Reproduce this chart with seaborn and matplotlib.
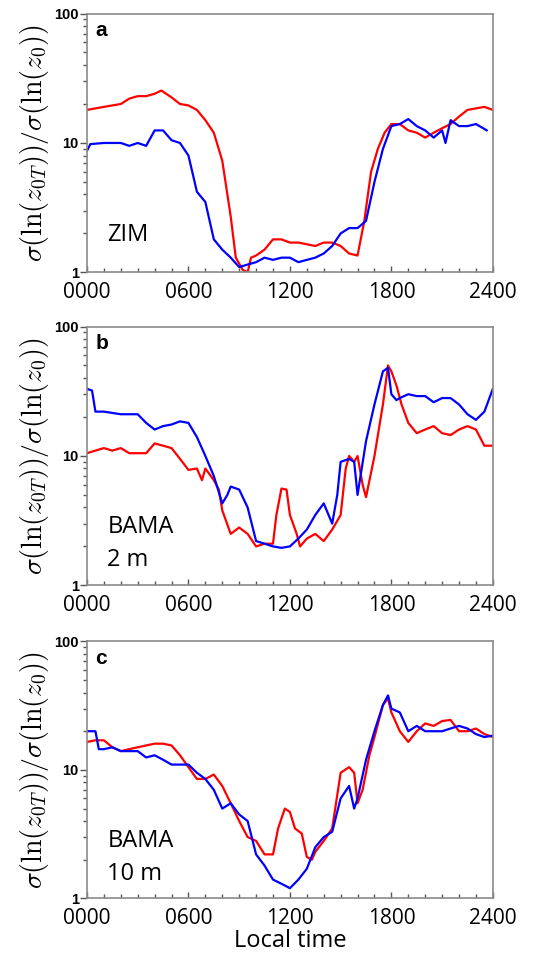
import numpy as np
import pandas as pd
import matplotlib
matplotlib.use("Agg")
import matplotlib.pyplot as plt
import matplotlib.ticker as mticker
import seaborn as sns

# hours of day
t_a_red = [0, 0.5, 1, 1.5, 2, 2.5, 3, 3.5, 4, 4.4, 5, 5.5, 6, 6.5, 7, 7.5, 8, 8.5, 8.8, 9.2, 9.5, 9.7, 10, 10.5, 11, 11.5, 12, 12.5, 13, 13.5, 14, 14.5, 15, 15.5, 16, 16.4, 16.8, 17.2, 17.6, 18, 18.5, 19, 19.5, 20, 20.5, 21, 21.5, 22, 22.5, 23, 23.5, 24]
v_a_red = [18, 18.5, 19, 19.5, 20, 22, 23, 23, 24, 25.4, 22.5, 20, 19.5, 18, 15, 12, 7.3, 2.7, 1.3, 1.05, 1.0, 1.3, 1.35, 1.5, 1.8, 1.8, 1.7, 1.7, 1.65, 1.6, 1.7, 1.7, 1.6, 1.4, 1.35, 2.5, 6, 9, 12, 14, 14, 12.5, 12, 11, 12, 13, 14, 16, 18, 18.5, 19, 18]
t_a_blue = [0, 0.2, 1, 2, 2.5, 3, 3.5, 4, 4.5, 5, 5.5, 6, 6.5, 7, 7.5, 8, 8.5, 9, 9.5, 10, 10.5, 11, 11.5, 12, 12.5, 13, 13.5, 14, 14.5, 15, 15.5, 16, 16.5, 17, 17.5, 18, 18.5, 19, 19.5, 20, 20.5, 21, 21.2, 21.5, 22, 22.5, 23, 23.65]
v_a_blue = [8.7, 9.8, 10, 10, 9.5, 10, 9.5, 12.5, 12.5, 10.5, 10, 8, 4.2, 3.5, 1.8, 1.5, 1.3, 1.1, 1.15, 1.2, 1.3, 1.25, 1.3, 1.3, 1.2, 1.25, 1.3, 1.4, 1.6, 2.0, 2.2, 2.2, 2.5, 5, 9, 13.5, 14, 15.3, 13.5, 12.5, 11, 12.5, 10, 15, 13.5, 13.5, 14, 12.5]

t_b_red = [0, 0.5, 1, 1.5, 2, 2.5, 3, 3.5, 4, 4.5, 5, 5.5, 6, 6.5, 6.8, 7, 7.5, 7.8, 8, 8.5, 9, 9.5, 10, 10.5, 11, 11.2, 11.5, 11.8, 12, 12.4, 12.6, 13, 13.5, 14, 14.5, 15, 15.3, 15.5, 15.8, 16, 16.3, 16.5, 17, 17.5, 17.8, 18, 18.3, 18.6, 19, 19.5, 20, 20.5, 21, 21.5, 22, 22.5, 23, 23.5, 24]
v_b_red = [10.5, 11, 11.5, 11, 11.5, 10.5, 10.5, 10.5, 12.5, 12, 11.5, 9.5, 7.8, 8, 6.5, 8, 6.5, 5.5, 3.8, 2.5, 2.8, 2.5, 2.0, 2.1, 2.1, 3.5, 5.6, 5.5, 3.5, 2.5, 2.0, 2.3, 2.5, 2.2, 2.7, 3.5, 8, 10, 9, 10, 6, 4.8, 10, 25, 50, 45, 35, 25, 18, 15, 16, 17, 15, 14.5, 16, 17, 16, 12, 12]
t_b_blue = [0, 0.3, 0.5, 1, 2, 3, 3.5, 4, 4.5, 5, 5.5, 6, 6.5, 7, 7.5, 8, 8.3, 8.5, 9, 9.5, 10, 10.5, 11, 11.5, 12, 12.5, 13, 13.5, 14, 14.5, 14.8, 15, 15.5, 15.8, 16, 16.5, 17, 17.5, 17.8, 18, 18.3, 18.5, 19, 19.5, 20, 20.5, 21, 21.5, 22, 22.5, 23, 23.5, 24]
v_b_blue = [33, 32, 22, 22, 21, 21, 18, 16, 17, 17.5, 18.5, 18, 14, 10, 7, 4.3, 5, 5.8, 5.5, 4, 2.2, 2.1, 2.0, 1.95, 2.0, 2.3, 2.7, 3.5, 4.3, 3.0, 5, 9, 9.5, 9, 5, 13, 25, 45, 48, 30, 27, 28, 30, 29, 29, 26, 28, 28, 25, 21, 19, 22, 33]

t_c_red = [0, 0.5, 1, 1.5, 2, 2.5, 3, 3.5, 4, 4.5, 5, 5.5, 6, 6.5, 7, 7.5, 8, 8.5, 9, 9.5, 10, 10.5, 11, 11.3, 11.7, 12, 12.3, 12.7, 13, 13.3, 13.5, 14, 14.5, 15, 15.5, 15.8, 16, 16.3, 16.7, 17, 17.5, 17.8, 18, 18.5, 19, 19.5, 20, 20.5, 21, 21.5, 22, 22.5, 23, 23.5, 24]
v_c_red = [16.5, 17, 17, 15, 14, 14.5, 15, 15.5, 16, 16, 15.5, 13, 10.5, 8.5, 8.5, 9.2, 7.5, 5.5, 4, 3, 2.8, 2.2, 2.2, 3.5, 5, 4.7, 3.5, 3.2, 2.1, 2.0, 2.3, 2.8, 3.5, 9.5, 10.5, 9.5, 5.5, 7, 13, 18, 32, 36, 28, 20, 16.5, 20, 23, 22, 24, 24.5, 20, 20, 21, 19, 18]
t_c_blue = [0, 0.5, 0.7, 1, 1.5, 2, 3, 3.5, 4, 4.5, 5, 5.5, 6, 6.5, 7, 7.5, 8, 8.5, 9, 9.5, 10, 10.5, 11, 11.5, 12, 12.5, 13, 13.5, 14, 14.5, 15, 15.5, 15.8, 16, 16.5, 17, 17.5, 17.8, 18, 18.5, 19, 19.5, 20, 20.5, 21, 21.5, 22, 22.5, 23, 23.5, 24]
v_c_blue = [20, 20, 14.5, 14.5, 15, 14, 14, 12.5, 13, 12, 11, 11, 11, 9.5, 8.5, 7, 5, 5.5, 4.5, 4, 2.2, 1.8, 1.4, 1.3, 1.2, 1.4, 1.7, 2.5, 3.0, 3.3, 6, 7.5, 5, 6, 12, 20, 32, 38, 30, 28, 20, 22, 20, 20, 20, 21, 22, 21, 19, 18, 18.5]

panel_letters = ["a", "b", "c"]
site_labels = ["ZIM", "BAMA\n2 m", "BAMA\n10 m"]
x_ticks = [0, 6, 12, 18, 24]
x_ticklabels = ["0000", "0600", "1200", "1800", "2400"]
ylab = r"$\sigma(\ln(z_{0T}))/\sigma(\ln(z_0))$"

series = [
    (t_a_red, v_a_red, t_a_blue, v_a_blue),
    (t_b_red, v_b_red, t_b_blue, v_b_blue),
    (t_c_red, v_c_red, t_c_blue, v_c_blue),
]

sns.set_style("white")
plt.rcParams["mathtext.fontset"] = "cm"
plt.rcParams["text.color"] = "black"
plt.rcParams["axes.labelcolor"] = "black"
plt.rcParams["xtick.color"] = "black"
plt.rcParams["ytick.color"] = "black"

fig = plt.figure(figsize=(5.47, 9.66), dpi=100)
boxes = [(0.159, 0.718, 0.742, 0.268),
         (0.159, 0.394, 0.742, 0.268),
         (0.159, 0.070, 0.742, 0.266)]

for i, (tr, vr, tb, vb) in enumerate(series):
    ax = fig.add_axes(boxes[i])
    dr = pd.DataFrame({"t": tr, "v": vr})
    db = pd.DataFrame({"t": tb, "v": vb})
    sns.lineplot(data=dr, x="t", y="v", color="#ff0000", lw=1.6, ax=ax)
    sns.lineplot(data=db, x="t", y="v", color="#0000ff", lw=1.6, ax=ax)
    ax.set_yscale("log")
    ax.set_ylim(1, 100)
    ax.set_xlim(0, 24)
    ax.set_xticks(x_ticks)
    ax.set_xticklabels(x_ticklabels, fontsize=15, family="Open Sans")
    ax.xaxis.set_minor_locator(mticker.MultipleLocator(1))
    ax.set_yticks([1, 10, 100])
    ax.set_yticklabels(["1", "10", "100"], fontsize=10.5, fontweight="bold", family="Liberation Sans")
    ax.yaxis.set_minor_locator(mticker.LogLocator(subs=np.arange(2, 10)))
    ax.yaxis.set_minor_formatter(mticker.NullFormatter())
    ax.tick_params(axis="both", which="both", bottom=True, left=True, top=False, right=False)
    ax.tick_params(axis="x", which="minor", direction="in", length=3, width=1, color="#555555")
    ax.tick_params(axis="x", which="major", direction="in", length=4, width=1, color="#555555", pad=7)
    ax.tick_params(axis="y", which="major", direction="out", length=5, width=1, color="#555555", pad=1)
    ax.tick_params(axis="y", which="minor", direction="out", length=3, width=1, color="#555555")
    for s in ax.spines.values():
        s.set_color("#8a8a8a")
        s.set_linewidth(1.2)
    ax.set_xlabel("")
    ax.set_ylabel(ylab, fontsize=20, labelpad=2)
    ax.text(0.02, 0.97, panel_letters[i], transform=ax.transAxes, fontsize=15,
            fontweight="bold", family="Liberation Sans", va="top", ha="left")
    ax.text(0.05, 0.1 if i == 0 else 0.05, site_labels[i], transform=ax.transAxes,
            fontsize=17, family="Open Sans", va="bottom", ha="left", linespacing=1.5)

ax.set_xlabel("Local time", fontsize=17, family="Open Sans", labelpad=0)

fig.savefig("out.png", dpi=100)
